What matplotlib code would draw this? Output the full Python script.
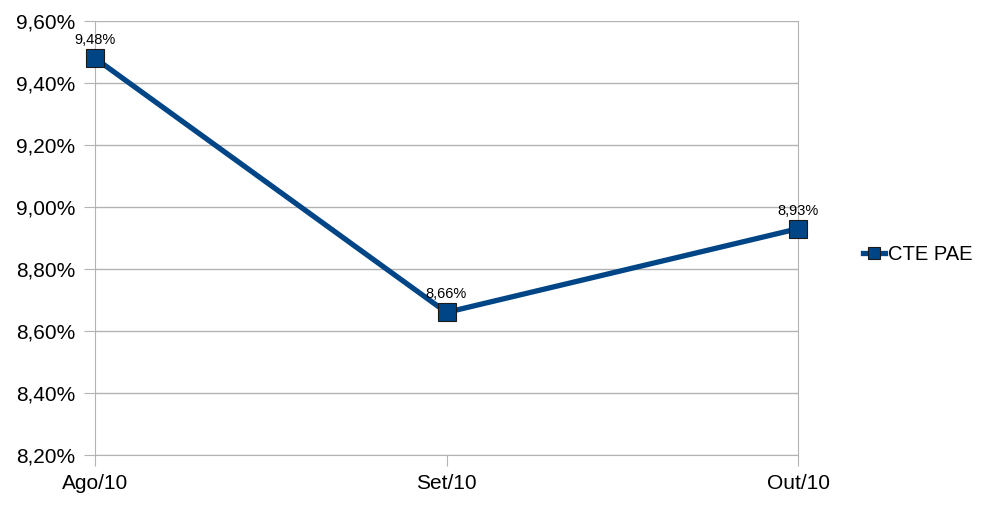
import matplotlib
matplotlib.use("Agg")
import matplotlib.pyplot as plt
from matplotlib.ticker import FuncFormatter

# data
months = ["Ago/10", "Set/10", "Out/10"]
cte_pae = [9.48, 8.66, 8.93]
y_ticks = [8.2, 8.4, 8.6, 8.8, 9.0, 9.2, 9.4, 9.6]

plt.rcParams['font.family'] = ['Liberation Sans', 'DejaVu Sans']

fig = plt.figure(figsize=(9.81, 5.07), dpi=100)
ax = fig.add_axes([95/981, 1 - 455/507, (798-95)/981, (455-21)/507])

grid_c = "#b3b3b3"
x = list(range(len(months)))
ax.plot(x, cte_pae, color="#004586", linewidth=3.8, marker="s", markersize=13.5,
        markerfacecolor="#004586", markeredgecolor="#1a1a1a", markeredgewidth=0.8,
        label="CTE PAE", zorder=3, clip_on=False)

for xi, v in zip(x, cte_pae):
    ax.annotate(f"{v:.2f}%".replace(".", ","), (xi, v), xytext=(0, 8),
                textcoords="offset points", ha="center", va="bottom", fontsize=10.5)

ax.set_xlim(0, len(months) - 1)
ax.set_ylim(8.2, 9.6)
ax.set_xticks(x)
ax.set_xticklabels(months, fontsize=15)
ax.set_yticks(y_ticks)
ax.yaxis.set_major_formatter(FuncFormatter(lambda v, p: f"{v:.2f}%".replace(".", ",")))
ax.tick_params(axis="y", labelsize=15, length=8, color=grid_c, pad=6)
ax.tick_params(axis="x", length=8, color=grid_c, pad=6)

ax.yaxis.grid(True, color=grid_c, linewidth=1)
ax.set_axisbelow(True)
for s in ["left", "bottom", "right"]:
    ax.spines[s].set_color(grid_c)
ax.spines["top"].set_visible(False)

ax.legend(loc="center left", bbox_to_anchor=(855/981, 1 - 255/507), bbox_transform=fig.transFigure,
          frameon=False, fontsize=14.5, handlelength=1.1, handletextpad=0.15, markerscale=0.65,
          borderaxespad=0)

fig.savefig("out.png", dpi=100)
